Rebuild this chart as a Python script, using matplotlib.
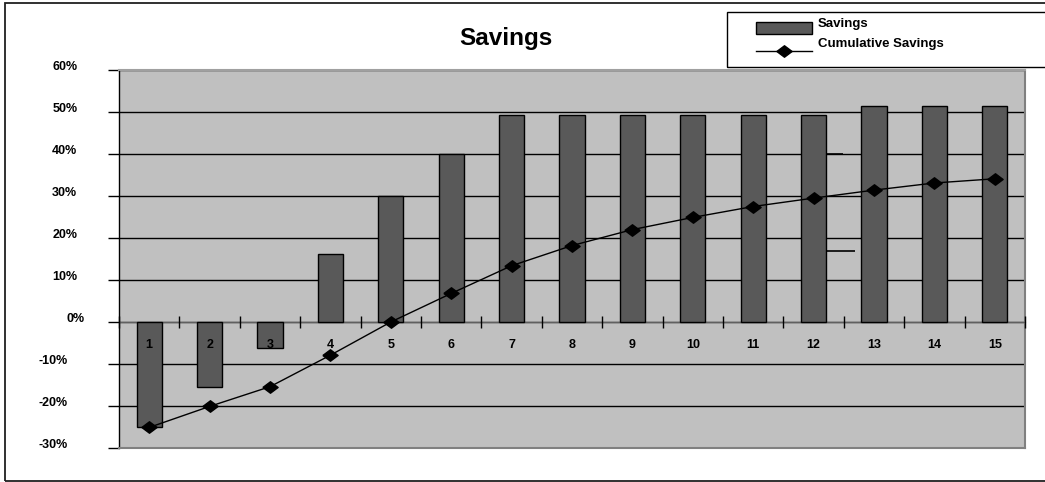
import matplotlib
matplotlib.use("Agg")
import matplotlib.pyplot as plt
import matplotlib.transforms as mtransforms
from matplotlib.patches import Rectangle
from matplotlib.lines import Line2D
from matplotlib.ticker import FixedLocator, PercentFormatter

plt.rcParams['font.family'] = ['Liberation Sans', 'DejaVu Sans']
plt.rcParams['font.weight'] = 'bold'
plt.rcParams['axes.unicode_minus'] = False

# --- data ---
periods = list(range(1, 16))
savings = [-0.251, -0.154, -0.062, 0.161, 0.300, 0.399, 0.493, 0.493,
           0.493, 0.493, 0.493, 0.492, 0.514, 0.514, 0.514]
cumulative = [-0.251, -0.201, -0.154, -0.079, 0.000, 0.068, 0.134, 0.182,
              0.220, 0.249, 0.275, 0.295, 0.314, 0.331, 0.341]
y_ticks = [-0.3, -0.2, -0.1, 0.0, 0.1, 0.2, 0.3, 0.4, 0.5, 0.6]
# two short leftover segments next to bar 12
stray_y = [0.40, 0.17]
stray_x0 = [12.2, 12.2]
stray_x1 = [12.48, 12.69]

BAR_COLOR = '#595959'
# flattened diamond marker
diamond = [(-1, 0), (0, 0.75), (1, 0), (0, -0.75), (-1, 0)]
MARKER_SIZE = 11

W, H = 1045, 482
fig = plt.figure(figsize=(W / 100, H / 100), dpi=100)
ax = fig.add_axes([119 / W, 1 - 448 / H, 906 / W, 378 / H])
ax.set_facecolor('#c0c0c0')

ax.bar(periods, savings, width=0.42, color=BAR_COLOR,
       edgecolor='black', linewidth=1.0, zorder=3)
ax.plot(periods, cumulative, color='black', linewidth=1.0,
        marker=diamond, markersize=MARKER_SIZE, markerfacecolor='black',
        markeredgecolor='black', zorder=4)
ax.hlines(stray_y, stray_x0, stray_x1, color='black', linewidth=1.2, zorder=3)

ax.set_xlim(0.5, 15.5)
ax.set_ylim(-0.3, 0.6)

# y axis
ax.set_yticks(y_ticks)
ax.yaxis.set_major_formatter(PercentFormatter(1.0, decimals=0))
ax.tick_params(axis='y', direction='out', length=8, width=1, color='black',
               pad=22, labelsize=9)
ax.yaxis.grid(True, color='black', linewidth=1.0)
ax.set_axisbelow(True)
fig.canvas.draw()
for val, lab in zip(y_ticks, ax.get_yticklabels()):
    dx = 0
    if val < 0:
        dx = -10
    elif val == 0:
        dx = 7
    shift = mtransforms.ScaledTranslation(dx / 100, 4 / 100, fig.dpi_scale_trans)
    lab.set_transform(lab.get_transform() + shift)
    lab.set_fontweight('bold')

# category axis sits on the zero line
ax.spines['bottom'].set_position(('data', 0))
ax.spines['bottom'].set_color('#606060')
ax.spines['bottom'].set_zorder(2.6)
ax.set_xticks(periods)
ax.set_xticklabels([str(p) for p in periods], fontweight='bold')
ax.xaxis.set_minor_locator(FixedLocator([p + 0.5 for p in [0] + periods]))
ax.tick_params(axis='x', which='major', length=0, pad=12, labelsize=9)
ax.tick_params(axis='x', which='minor', direction='inout', length=9,
               width=1, color='black')
ax.xaxis.set_zorder(5)

ax.spines['left'].set_color('black')
ax.spines['left'].set_linewidth(1.0)
ax.spines['top'].set_color('#a0a0a0')
ax.spines['top'].set_linewidth(1.5)
ax.spines['right'].set_color('#808080')
ax.spines['right'].set_linewidth(1.5)
ax.axhline(-0.3, color='#808080', linewidth=1.5, zorder=2.6, clip_on=False)

fig.text(506 / W, 1 - 39 / H, 'Savings', ha='center', va='center',
         fontsize=17.5, fontweight='bold')

# outer chart frame and legend box (both run off the right edge)
fig.add_artist(Rectangle((5 / W, 1 - 480.5 / H), 1.1, 477.5 / H,
                         transform=fig.transFigure, fill=False,
                         edgecolor='#202020', linewidth=1.3))
fig.add_artist(Rectangle((727 / W, 1 - 66.5 / H), 1.1, 54 / H,
                         transform=fig.transFigure, fill=False,
                         edgecolor='black', linewidth=1.0))

# legend entries
fig.add_artist(Rectangle((756 / W, 1 - 34 / H), 56 / W, 12 / H,
                         transform=fig.transFigure, facecolor=BAR_COLOR,
                         edgecolor='black', linewidth=1.0))
fig.add_artist(Line2D([756 / W, 812 / W], [1 - 51 / H, 1 - 51 / H],
                      transform=fig.transFigure, color='black', linewidth=1.0))
fig.add_artist(Line2D([784 / W], [1 - 51 / H], transform=fig.transFigure,
                      marker=diamond, markersize=MARKER_SIZE, color='black',
                      linestyle='none'))
fig.text(818 / W, 1 - 24 / H, 'Savings', ha='left', va='center',
         fontsize=9.5, fontweight='bold')
fig.text(818 / W, 1 - 44 / H, 'Cumulative Savings', ha='left', va='center',
         fontsize=9.5, fontweight='bold')

fig.savefig('out.png', dpi=100)
